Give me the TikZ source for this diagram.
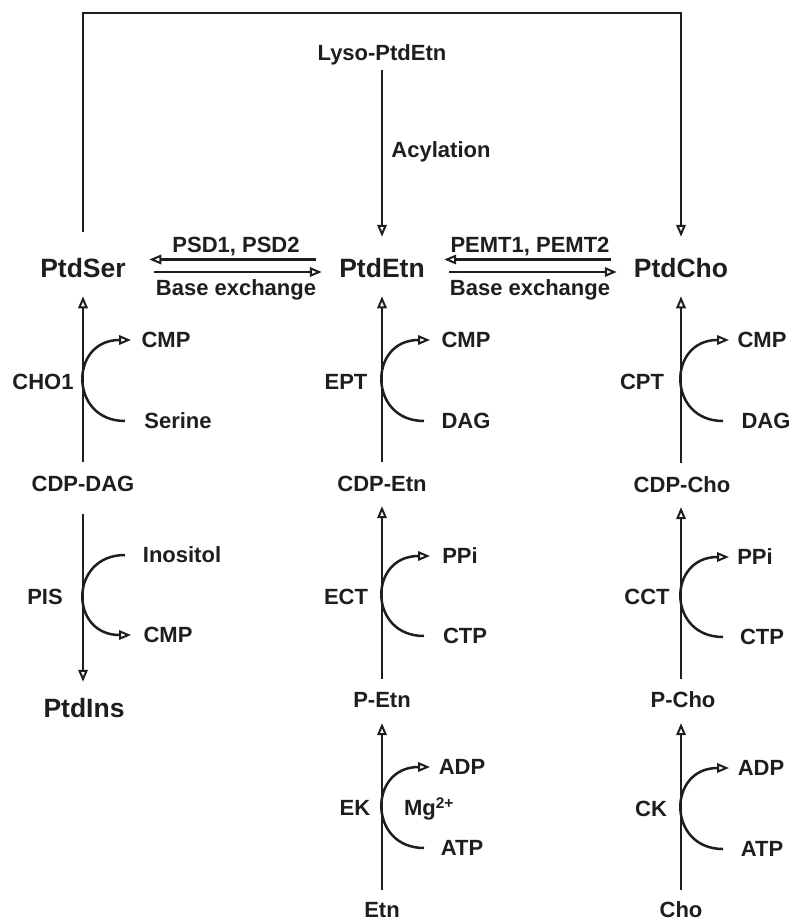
\documentclass[tikz,border=0pt]{standalone}
\usepackage{fontspec}
\setmainfont{Liberation Sans}
\usetikzlibrary{arrows.meta}
\definecolor{ink}{RGB}{30,30,30}
\newcommand\rarc[3]{%
  \coordinate (ra) at ({#1+42},0);
  \coordinate (re) at ({#1+48},0);
  \coordinate (rc) at ({#1-14},0);
  \draw[arr] (#2 -| ra) .. controls (#2 -| rc) and (#3 -| rc) .. (#3 -| re);
}
\begin{document}
\begin{tikzpicture}[x=1pt,y=-1pt,line width=2.5pt,color=ink,line join=miter,
  big/.style={font=\fontsize{26.5}{30}\selectfont\bfseries,inner sep=0pt,text height=19pt,text depth=0pt},
  sml/.style={font=\fontsize{22}{26}\selectfont\bfseries,inner sep=0pt,text height=15.75pt,text depth=0pt},
  arr/.style={-{Triangle[open,length=12pt,width=9.5pt,line width=2pt]}}]
\useasboundingbox (0,0) rectangle (793,921);
% main lipids
\node[big] (ptdser) at (83,268) {PtdSer};
\node[big] (ptdetn) at (382,268) {PtdEtn};
\node[big] (ptdcho) at (681,268) {PtdCho};
\node[big] (ptdins) at (84,708) {PtdIns};
\node[sml] (lyso) at (382,53) {Lyso-PtdEtn};
\node[sml] (acyl) at (441,150) {Acylation};
\node[sml] (psd) at (236,245) {PSD1, PSD2};
\node[sml] (bex1) at (236,288) {Base exchange};
\node[sml] (pemt) at (530,245) {PEMT1, PEMT2};
\node[sml] (bex2) at (530,288) {Base exchange};
% left column
\node[sml] (cdpdag) at (83,484) {CDP-DAG};
\node[sml] (cho1) at (43,382) {CHO1};
\node[sml] (cmp1) at (166,340) {CMP};
\node[sml] (ser) at (178,421) {Serine};
\node[sml] (pis) at (45,597) {PIS};
\node[sml] (ino) at (182,555) {Inositol};
\node[sml] (cmp2) at (168,635) {CMP};
% middle column
\node[sml] (cdpetn) at (382,484) {CDP-Etn};
\node[sml] (petn) at (382,700) {P-Etn};
\node[sml] (etn) at (382,910) {Etn};
\node[sml] (ept) at (346,382) {EPT};
\node[sml] (cmp3) at (466,340) {CMP};
\node[sml] (dag1) at (466,421) {DAG};
\node[sml] (ect) at (346,597) {ECT};
\node[sml] (ppi1) at (460,556) {PPi};
\node[sml] (ctp1) at (465,636) {CTP};
\node[sml] (ek) at (355,808) {EK};
\node[sml] (mg) at (429,808) {Mg\textsuperscript{2+}};
\node[sml] (adp1) at (462,767) {ADP};
\node[sml] (atp1) at (462,848) {ATP};
% right column
\node[sml] (cdpcho) at (682,485) {CDP-Cho};
\node[sml] (pcho) at (683,700) {P-Cho};
\node[sml] (cho) at (681,910) {Cho};
\node[sml] (cpt) at (642,382) {CPT};
\node[sml] (cmp4) at (762,340) {CMP};
\node[sml] (dag2) at (766,421) {DAG};
\node[sml] (cct) at (647,597) {CCT};
\node[sml] (ppi2) at (755,557) {PPi};
\node[sml] (ctp2) at (762,637) {CTP};
\node[sml] (ck) at (651,809) {CK};
\node[sml] (adp2) at (761,768) {ADP};
\node[sml] (atp2) at (762,849) {ATP};
% top frame
\coordinate (tl) at (83,13);
\coordinate (tr) at (681,13);
\draw[arr,shorten <=25.5pt,shorten >=20.5pt] (ptdser.north) -- (tl) -- (tr) -- (ptdcho.north);
\draw[arr,shorten <=8pt,shorten >=20.5pt] (lyso.south) -- (ptdetn.north);
% horizontal
\draw[arr,shorten <=22.3pt,shorten >=22.3pt] ([yshift=8.5pt]ptdetn.west) -- ([yshift=8.5pt]ptdser.east);
\draw[arr,shorten <=27.3pt,shorten >=16.3pt] ([yshift=-4pt]ptdser.east) -- ([yshift=-4pt]ptdetn.west);
\draw[arr,shorten <=21.9pt,shorten >=18.3pt] ([yshift=8.5pt]ptdcho.west) -- ([yshift=8.5pt]ptdetn.east);
\draw[arr,shorten <=23.3pt,shorten >=15.9pt] ([yshift=-4pt]ptdetn.east) -- ([yshift=-4pt]ptdcho.west);
% verticals
\draw[arr,shorten <=13pt,shorten >=17.5pt] (cdpdag.north) -- (ptdser.south);
\draw[arr,shorten <=21pt,shorten >=15.5pt] (cdpdag.south) -- (cdpdag.south |- ptdins.north);
\draw[arr,shorten <=13pt,shorten >=17.5pt] (cdpetn.north) -- (ptdetn.south);
\draw[arr,shorten <=12pt,shorten >=13pt] (petn.north) -- (cdpetn.south);
\draw[arr,shorten <=11pt,shorten >=14pt] (etn.north) -- (petn.south);
\draw[arr,shorten <=13pt,shorten >=17.5pt] (ptdcho.south |- cdpcho.north) -- (ptdcho.south);
\draw[arr,shorten <=12pt,shorten >=13pt] (cho.north |- pcho.north) -- (cho.north |- cdpcho.south);
\draw[arr,shorten <=11pt,shorten >=14pt] (cho.north) -- (cho.north |- pcho.south);
% reaction arcs
\rarc{83}{ser}{cmp1}
\rarc{83}{ino}{cmp2}
\rarc{382}{dag1}{cmp3}
\rarc{382}{ctp1}{ppi1}
\rarc{382}{atp1}{adp1}
\rarc{681}{dag2}{cmp4}
\rarc{681}{ctp2}{ppi2}
\rarc{681}{atp2}{adp2}
\end{tikzpicture}
\end{document}
